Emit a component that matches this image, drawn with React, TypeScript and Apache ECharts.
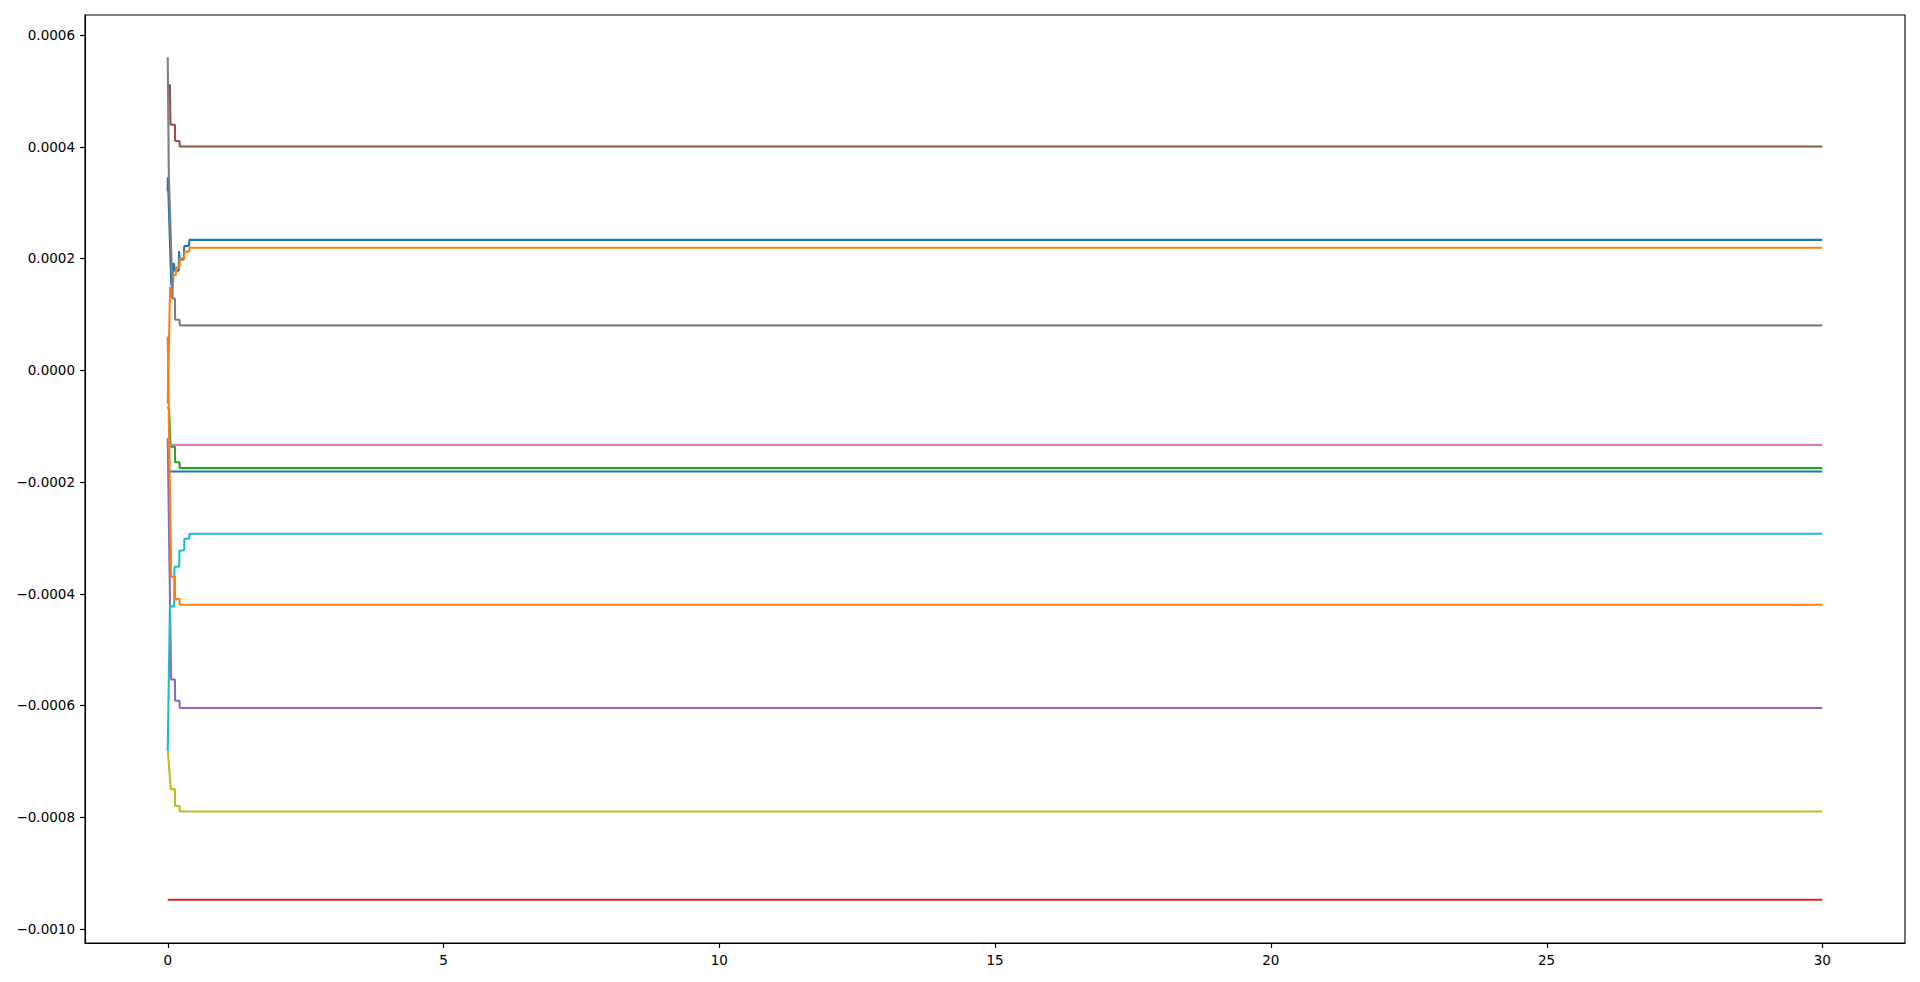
import React, { useEffect, useRef } from "react";
import * as echarts from "echarts";

type Pt = [number, number];

const xTicks: number[] = [0, 5, 10, 15, 20, 25, 30];
const yTicks: number[] = [-0.001, -0.0008, -0.0006, -0.0004, -0.0002, 0, 0.0002, 0.0004, 0.0006];
const xMin = -1.5;
const xMax = 31.5;
const yMin = -0.0010255;
const yMax = 0.0006355;

const blueUpper: Pt[] = [
  [0, 0.00032], [0.003, 0.000345], [0.065, 0.000152], [0.085, 0.000152], [0.095, 0.00019],
  [0.115, 0.00019], [0.125, 0.000178], [0.2, 0.000178], [0.205, 0.000213], [0.215, 0.000198],
  [0.29, 0.000198], [0.3, 0.000222], [0.385, 0.000222], [0.393, 0.000233], [30, 0.000233],
];
const orangeUpper: Pt[] = [
  [0, -0.00006], [0.043, 0.000149], [0.05, 0.00013], [0.07, 0.00013], [0.106, 0.00017],
  [0.148, 0.00017], [0.152, 0.000184], [0.214, 0.000184], [0.218, 0.0002], [0.298, 0.0002],
  [0.302, 0.000212], [0.389, 0.000212], [0.393, 0.000219], [30, 0.000219],
];
const green: Pt[] = [
  [0, -0.000066], [0.025, -0.00007], [0.05, -0.000137], [0.13, -0.000137], [0.134, -0.000165],
  [0.214, -0.000165], [0.218, -0.0001756], [30, -0.0001756],
];
const red: Pt[] = [[0, -0.000948], [30, -0.000948]];
const purple: Pt[] = [
  [0, -0.000122], [0.061, -0.000554], [0.13, -0.000554], [0.134, -0.000592], [0.214, -0.000592],
  [0.218, -0.000605], [30, -0.000605],
];
const brown: Pt[] = [
  [0, 0.00051], [0.04, 0.00051], [0.05, 0.000439], [0.13, 0.000439], [0.134, 0.00041],
  [0.214, 0.00041], [0.218, 0.0004], [30, 0.0004],
];
const pink: Pt[] = [[0, -0.000134], [30, -0.000134]];
const gray: Pt[] = [
  [0, 0.00056], [0.02, 0.00035], [0.09, 0.000128], [0.13, 0.000128], [0.134, 0.00009],
  [0.214, 0.00009], [0.218, 0.00008], [30, 0.00008],
];
const olive: Pt[] = [
  [0, -0.000682], [0.005, -0.000685], [0.055, -0.00075], [0.13, -0.00075], [0.134, -0.00078],
  [0.214, -0.00078], [0.218, -0.00079], [30, -0.00079],
];
const cyan: Pt[] = [
  [0, -0.000682], [0.04, -0.000423], [0.118, -0.000423], [0.122, -0.000352], [0.208, -0.000352],
  [0.212, -0.000323], [0.299, -0.000323], [0.303, -0.000302], [0.39, -0.000302], [0.394, -0.000293],
  [30, -0.000293],
];
const blueLower: Pt[] = [[0, -0.0001815], [30, -0.0001815]];
const orangeLower: Pt[] = [
  [0, 0.00006], [0.061, -0.00037], [0.13, -0.00037], [0.134, -0.00041], [0.214, -0.00041],
  [0.218, -0.00042], [30, -0.00042],
];

const seriesData: Pt[][] = [
  blueUpper, orangeUpper, green, red, purple, brown, pink, gray, olive, cyan, blueLower, orangeLower,
];
const seriesColors: string[] = [
  "#1f77b4", "#ff7f0e", "#2ca02c", "#d62728", "#9467bd", "#8c564b",
  "#e377c2", "#7f7f7f", "#bcbd22", "#17becf", "#1f77b4", "#ff7f0e",
];

const FONT = "DejaVu Sans";
const TICK_LEN = 5;

export default function App() {
  const ref = useRef<HTMLDivElement>(null);
  useEffect(() => {
    if (!ref.current) return;
    const chart = echarts.init(ref.current, undefined, { renderer: "svg" });
    chart.setOption({
      animation: false,
      backgroundColor: "#ffffff",
      grid: {
        left: 85,
        right: 15,
        top: 15,
        bottom: 39,
        show: true,
        borderColor: "#000000",
        borderWidth: 1.1,
        backgroundColor: "transparent",
        containLabel: false,
        outerBoundsMode: "none",
      },
      xAxis: {
        type: "value",
        min: xMin,
        max: xMax,
        axisLine: { show: true, onZero: false, lineStyle: { color: "#000000", width: 1.1 } },
        splitLine: { show: false },
        axisTick: { show: false },
        axisLabel: {
          show: true,
          customValues: xTicks,
          margin: 10,
          color: "#000000",
          fontFamily: FONT,
          fontSize: 13.5,
          formatter: (v: number) => String(v),
        },
      },
      yAxis: {
        type: "value",
        min: yMin,
        max: yMax,
        axisLine: { show: true, onZero: false, lineStyle: { color: "#000000", width: 1.1 } },
        splitLine: { show: false },
        axisTick: { show: false },
        axisLabel: {
          show: true,
          customValues: yTicks,
          margin: 10,
          color: "#000000",
          fontFamily: FONT,
          fontSize: 13.5,
          formatter: (v: number) => {
            const s = (Math.abs(v) < 1e-12 ? 0 : v).toFixed(4);
            return s.replace("-", "\u2212");
          },
        },
      },
      series: seriesData.map((d, i) => ({
        type: "line",
        data: d,
        showSymbol: false,
        symbol: "none",
        silent: true,
        z: 2 + i * 0.01,
        lineStyle: { color: seriesColors[i], width: 2.1 },
        itemStyle: { color: seriesColors[i] },
        emphasis: { disabled: true },
      })),
    });

    // Tick marks positioned through the axes' own scales, snapped to crisp pixels
    const corner = chart.convertToPixel({ gridIndex: 0 }, [xMin, yMin]) as number[];
    const left = Math.round(corner[0]);
    const bottom = Math.round(corner[1]);
    const elements: any[] = [];
    xTicks.forEach((v) => {
      const px = Math.round(chart.convertToPixel({ xAxisIndex: 0 }, v) as number) + 0.5;
      elements.push({
        type: "line",
        z: 100,
        shape: { x1: px, y1: bottom, x2: px, y2: bottom + TICK_LEN },
        style: { stroke: "#000000", lineWidth: 1.2 },
      });
    });
    yTicks.forEach((v) => {
      const py = Math.round(chart.convertToPixel({ yAxisIndex: 0 }, v) as number) + 0.5;
      elements.push({
        type: "line",
        z: 100,
        shape: { x1: left - TICK_LEN, y1: py, x2: left, y2: py },
        style: { stroke: "#000000", lineWidth: 1.2 },
      });
    });
    chart.setOption({ graphic: { elements } });

    return () => chart.dispose();
  }, []);
  return (
    <div
      ref={ref}
      style={{ position: "fixed", left: 0, top: 0, width: 1920, height: 982, background: "#fff" }}
    />
  );
}
